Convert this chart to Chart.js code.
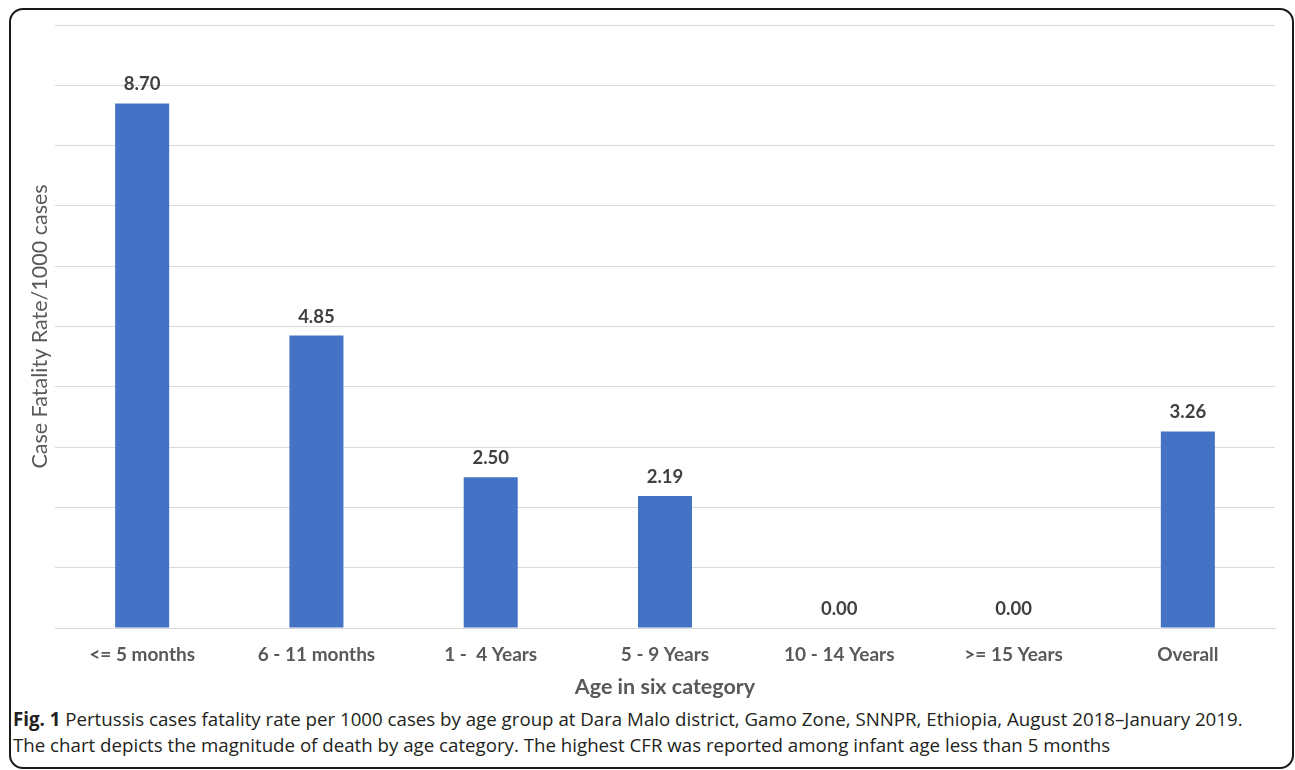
<!DOCTYPE html>
<html>
<head>
<meta charset="utf-8">
<script src="https://cdn.jsdelivr.net/npm/chart.js@4.4.1/dist/chart.umd.min.js"></script>
<style>
  html, body { margin: 0; padding: 0; background: #fff; }
  body { width: 1295px; height: 770px; position: relative; overflow: hidden; }
  .frame {
    position: absolute; left: 9px; top: 8px; width: 1281px; height: 757px;
    border: 2px solid #1a1a1a; border-radius: 14px; box-sizing: content-box;
  }
  #wrap { position: absolute; left: 0; top: 0; width: 1295px; height: 705px; }
  .caption {
    position: absolute; left: 13px; top: 706px; width: 1275px; white-space: nowrap;
    font-family: "Open Sans", sans-serif; font-size: 18.7px; line-height: 26px;
    color: #231f20;
  }
  .caption b { font-weight: 700; }
</style>
</head>
<body>
<div class="frame"></div>
<div id="wrap"><canvas id="c" width="1295" height="705"></canvas></div>
<div class="caption"><b>Fig. 1</b> Pertussis cases fatality rate per 1000 cases by age group at Dara Malo district, Gamo Zone, SNNPR, Ethiopia, August 2018–January 2019.<br>The chart depicts the magnitude of death by age category. The highest CFR was reported among infant age less than 5 months</div>
<script>
// Age groups and case fatality rate per 1000 cases
const categories = ["<= 5 months", "6 - 11 months", "1 -  4 Years", "5 - 9 Years", "10 - 14 Years", ">= 15 Years", "Overall"];
const cfrValues = [8.70, 4.85, 2.50, 2.19, 0.00, 0.00, 3.26];
const yMin = 0;
const yMax = 10;
const yStep = 1;

const FONT = "Lato, 'Open Sans', sans-serif";

// Writes the value above each bar
const valueLabels = {
  id: 'valueLabels',
  afterDatasetsDraw(chart) {
    const ctx = chart.ctx;
    const meta = chart.getDatasetMeta(0);
    ctx.save();
    ctx.font = "bold 18.5px " + FONT;
    ctx.fillStyle = "#404040";
    ctx.textAlign = "center";
    ctx.textBaseline = "middle";
    meta.data.forEach((bar, i) => {
      ctx.fillText(cfrValues[i].toFixed(2), bar.x, bar.y - 19);
    });
    ctx.restore();
  }
};

new Chart(document.getElementById('c'), {
  type: 'bar',
  data: {
    labels: categories,
    datasets: [{
      data: cfrValues,
      backgroundColor: '#4472c4',
      borderWidth: 0,
      categoryPercentage: 1,
      barPercentage: 0.31
    }]
  },
  options: {
    responsive: false,
    animation: false,
    devicePixelRatio: 1,
    layout: { padding: { left: 24, top: 25, right: 20, bottom: 0 } },
    plugins: { legend: { display: false }, tooltip: { enabled: false } },
    scales: {
      x: {
        grid: { display: false, drawTicks: false },
        border: { display: true, color: '#d9d9d9', width: 1 },
        ticks: {
          color: '#595959',
          font: { family: FONT, size: 19, weight: 'bold' },
          padding: 15,
          maxRotation: 0, autoSkip: false
        },
        title: {
          display: true,
          text: 'Age in six category',
          color: '#595959',
          font: { family: FONT, size: 21.5, weight: 'bold' },
          padding: { top: 0, bottom: 5 }
        },
        afterFit(scale) { scale.height = 77; }
      },
      y: {
        min: yMin, max: yMax,
        grid: { color: '#d9d9d9', lineWidth: 1, drawTicks: false },
        border: { display: false },
        ticks: { display: false, stepSize: yStep },
        title: {
          display: true,
          text: 'Case Fatality Rate/1000 cases',
          color: '#595959',
          font: { family: FONT, size: 21.5, weight: 'normal' },
          padding: { top: 3, bottom: 3 }
        },
        afterFit(scale) { scale.width = 31; }
      }
    }
  },
  plugins: [valueLabels]
});
</script>
</body>
</html>
